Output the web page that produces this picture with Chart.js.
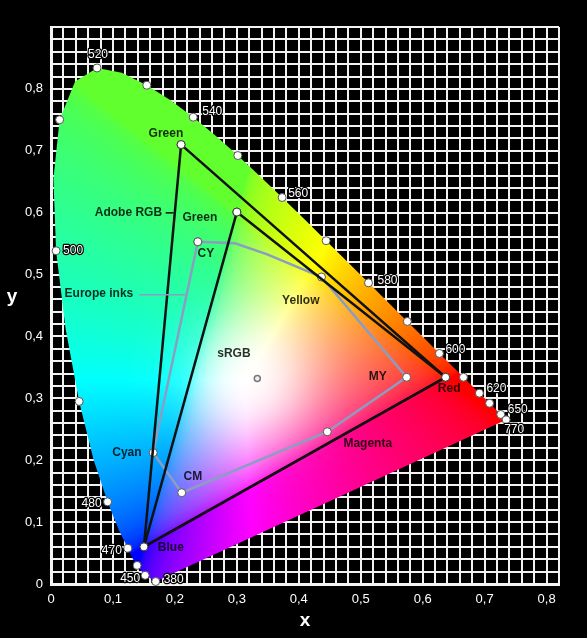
<!DOCTYPE html>
<html>
<head>
<meta charset="utf-8">
<script src="https://cdn.jsdelivr.net/npm/chart.js@4.4.1/dist/chart.umd.min.js"></script>
<style>
	html, body { margin: 0; background: #000; }
	canvas { display: block; }
</style>
</head>
<body>
<canvas id="chart" width="587" height="638"></canvas>
<script>
// Spectral locus (wavelength in nm, chromaticity x / y)
const locusNm = [380, 420, 430, 440, 450, 455, 460, 465, 470, 475,
	480, 485, 490, 495, 500, 505, 510, 515, 520, 525,
	530, 535, 540, 545, 550, 555, 560, 565, 570, 575,
	580, 585, 590, 595, 600, 605, 610, 615, 620, 625,
	630, 635, 640, 645, 650, 660, 680, 770];
const locusX = [0.169, 0.167, 0.164, 0.159, 0.152, 0.146, 0.139, 0.132, 0.1241, 0.1096,
	0.0913, 0.0687, 0.0454, 0.0235, 0.0082, 0.0039, 0.0139, 0.0389, 0.0743, 0.1142,
	0.1547, 0.1929, 0.2296, 0.2658, 0.3016, 0.3373, 0.3731, 0.4087, 0.4441, 0.4788,
	0.5125, 0.5448, 0.5752, 0.6029, 0.6270, 0.6482, 0.6658, 0.6801, 0.6915, 0.7006,
	0.7079, 0.7140, 0.7190, 0.7230, 0.7260, 0.7300, 0.7334, 0.7347];
const locusY = [0.004, 0.005, 0.007, 0.010, 0.014, 0.021, 0.030, 0.041, 0.0578, 0.0868,
	0.1327, 0.2007, 0.2950, 0.4127, 0.5384, 0.6548, 0.7502, 0.8120, 0.8338, 0.8262,
	0.8059, 0.7816, 0.7543, 0.7243, 0.6923, 0.6589, 0.6245, 0.5896, 0.5547, 0.5202,
	0.4866, 0.4544, 0.4242, 0.3965, 0.3725, 0.3514, 0.3340, 0.3197, 0.3083, 0.2993,
	0.2920, 0.2859, 0.2809, 0.2770, 0.2740, 0.2700, 0.2666, 0.2653];

// wavelengths that carry a dot on the locus
const markedNm = [380, 450, 460, 470, 480, 490, 500, 510, 520, 530, 540, 550,
	560, 570, 580, 590, 600, 610, 620, 630, 650, 770];

// colour spaces
const adobeX = [0.210, 0.637, 0.150, 0.210];
const adobeY = [0.710, 0.334, 0.060, 0.710];
const srgbX = [0.300, 0.637, 0.150, 0.300];
const srgbY = [0.601, 0.334, 0.060, 0.601];

// Europe inks gamut (marked = ink vertex)
const inksX = [0.237, 0.297, 0.348, 0.4366, 0.574, 0.446, 0.211, 0.165, 0.237];
const inksY = [0.553, 0.5506, 0.533, 0.496, 0.334, 0.246, 0.1475, 0.2123, 0.553];
const inksMarked = [1, 0, 0, 1, 1, 1, 1, 1, 1];

const whiteX = [0.333];
const whiteY = [0.332];

const FONT = "'Liberation Sans', Arial, Helvetica, sans-serif";

const pts = (xs, ys) => xs.map((v, i) => ({ x: v, y: ys[i] }));
const markedPts = markedNm.map(nm => {
	const i = locusNm.indexOf(nm);
	return { x: locusX[i], y: locusY[i] };
});

// wavelength labels: nm, dx, dy (pixel offset from dot)
const nmLabels = [
	[520, 1, -13], [540, 19, -5], [560, 16, -4], [580, 19, -2], [500, 17, 0],
	[480, -16, 2], [470, -16, 2], [450, -15, 3], [380, 18, -2],
	[600, 16, -4], [620, 17, -5], [650, 17, -5], [770, 8, 10],
];

// region labels placed in chart units
const regionLabels = [
	['Green', 0.1855, 0.7277], ['Adobe RGB', 0.125, 0.5997], ['Green', 0.2403, 0.5916],
	['CY', 0.250, 0.5332], ['Yellow', 0.4032, 0.457], ['Europe inks', 0.0774, 0.4695],
	['sRGB', 0.2952, 0.3728], ['MY', 0.5274, 0.3355], ['Red', 0.6427, 0.316],
	['Magenta', 0.5113, 0.2269], ['Cyan', 0.1226, 0.2128], ['CM', 0.229, 0.1739],
	['Blue', 0.1935, 0.0579],
];

function xyToRgb(x, y) {
	const X = x / y, Y = 1, Z = (1 - x - y) / y;
	let r = 3.2406 * X - 1.5372 * Y - 0.4986 * Z;
	let g = -0.9689 * X + 1.8758 * Y + 0.0415 * Z;
	let b = 0.0557 * X - 0.2040 * Y + 1.0570 * Z;
	r = Math.max(r, 0); g = Math.max(g, 0); b = Math.max(b, 0);
	const m = Math.max(r, g, b) || 1;
	const gam = c => {
		c = c / m;
		return c <= 0.0031308 ? 12.92 * c : 1.055 * Math.pow(c, 1 / 2.4) - 0.055;
	};
	let R = gam(r), G = gam(g), B = gam(b);
	// the original greens lean towards yellow
	const k = G * (1 - R) * (1 - B);
	R += (1 - R) * 0.38 * G * (1 - B);
	B += (1 - B) * 0.18 * k;
	// wider white patch round the white point
	const d2 = (x - 0.325) ** 2 + (y - 0.33) ** 2;
	const w = 0.85 * Math.exp(-d2 / (2 * 0.065 * 0.065));
	R += (1 - R) * w; G += (1 - G) * w; B += (1 - B) * w;
	return [R * 255, G * 255, B * 255];
}

let offscreen = null;
const horseshoe = {
	id: 'horseshoe',
	beforeDatasetsDraw(chart) {
		const { ctx, chartArea: a, scales: { x, y } } = chart;
		const w = Math.ceil(a.right - a.left), h = Math.ceil(a.bottom - a.top);
		if (!offscreen) {
			offscreen = document.createElement('canvas');
			offscreen.width = w; offscreen.height = h;
			const octx = offscreen.getContext('2d');
			const img = octx.createImageData(w, h);
			for (let j = 0; j < h; j++) {
				const cy = y.getValueForPixel(a.top + j + 0.5);
				for (let i = 0; i < w; i++) {
					const cx = x.getValueForPixel(a.left + i + 0.5);
					const k = (j * w + i) * 4;
					if (cy <= 0.001) continue;
					const c = xyToRgb(cx, cy);
					img.data[k] = c[0]; img.data[k + 1] = c[1]; img.data[k + 2] = c[2]; img.data[k + 3] = 255;
				}
			}
			octx.putImageData(img, 0, 0);
		}
		ctx.save();
		ctx.beginPath();
		locusX.forEach((v, i) => {
			const px = x.getPixelForValue(v), py = y.getPixelForValue(locusY[i]);
			if (i) ctx.lineTo(px, py); else ctx.moveTo(px, py);
		});
		ctx.closePath();
		ctx.clip();
		ctx.drawImage(offscreen, a.left, a.top);
		ctx.restore();
	}
};

const labels = {
	id: 'labels',
	afterDatasetsDraw(chart) {
		const { ctx, chartArea: a, scales: { x, y } } = chart;
		ctx.save();
		// leader lines
		ctx.lineWidth = 1.5;
		ctx.strokeStyle = '#111';
		ctx.beginPath();
		ctx.moveTo(x.getPixelForValue(0.185), y.getPixelForValue(0.5997));
		ctx.lineTo(x.getPixelForValue(0.198), y.getPixelForValue(0.5997));
		ctx.stroke();
		ctx.strokeStyle = '#8b9dc3';
		ctx.beginPath();
		ctx.moveTo(x.getPixelForValue(0.1424), y.getPixelForValue(0.4673));
		ctx.lineTo(x.getPixelForValue(0.2166), y.getPixelForValue(0.4673));
		ctx.stroke();

		ctx.textAlign = 'center';
		ctx.textBaseline = 'middle';
		ctx.font = 'bold 12px ' + FONT;
		ctx.fillStyle = 'rgba(0,0,0,0.82)';
		regionLabels.forEach(([t, vx, vy]) => {
			ctx.fillText(t, x.getPixelForValue(vx), y.getPixelForValue(vy));
		});

		// wavelength numbers: white with a thin black halo
		ctx.font = '12px ' + FONT;
		ctx.lineJoin = 'round';
		ctx.lineWidth = 2.5;
		ctx.strokeStyle = '#000';
		ctx.fillStyle = '#fff';
		nmLabels.forEach(([nm, dx, dy]) => {
			const i = locusNm.indexOf(nm);
			const px = x.getPixelForValue(locusX[i]) + dx, py = y.getPixelForValue(locusY[i]) + dy;
			ctx.strokeText(String(nm), px, py);
			ctx.fillText(String(nm), px, py);
		});

		// axis titles
		ctx.font = 'bold 19px ' + FONT;
		ctx.fillText('x', (a.left + a.right) / 2, a.bottom + 37);
		ctx.fillText('y', a.left - 39, (a.top + a.bottom) / 2 - 9);
		ctx.restore();
	}
};

const tickLabel = v => {
	const k = Math.round(v * 100);
	if (k % 10 !== 0 || k > 80) return '';
	return k === 0 ? '0' : '0,' + (k / 10);
};

const axis = (max, fit) => ({
	type: 'linear',
	min: 0,
	max: max,
	afterFit: fit,
	grid: { color: '#f2f2f2', lineWidth: 2, drawTicks: false },
	border: { color: '#f4f4f4', width: 3 },
	ticks: {
		stepSize: 0.02,
		autoSkip: false,
		maxRotation: 0,
		padding: 8,
		color: '#fff',
		font: { family: FONT, size: 13 },
		callback: tickLabel,
	},
});

const vertexStyle = {
	pointRadius: 4,
	pointBackgroundColor: '#fff',
	pointBorderColor: '#333',
	pointBorderWidth: 1,
};

new Chart(document.getElementById('chart'), {
	type: 'scatter',
	data: {
		datasets: [
			{
				label: 'Spectral locus',
				data: markedPts,
				pointRadius: 4,
				pointBackgroundColor: '#fff',
				pointBorderColor: '#555',
				pointBorderWidth: 1,
				clip: false,
			},
			{
				label: 'White point',
				data: pts(whiteX, whiteY),
				pointRadius: 3,
				pointBackgroundColor: '#eee',
				pointBorderColor: '#777',
				pointBorderWidth: 1.5,
			},
			{
				label: 'Adobe RGB',
				data: pts(adobeX, adobeY),
				showLine: true,
				borderColor: '#111',
				borderWidth: 2.5,
				...vertexStyle,
			},
			{
				label: 'sRGB',
				data: pts(srgbX, srgbY),
				showLine: true,
				borderColor: '#111',
				borderWidth: 2.5,
				...vertexStyle,
			},
			{
				label: 'Europe inks',
				data: pts(inksX, inksY),
				showLine: true,
				borderColor: '#8b9dc3',
				borderWidth: 2.5,
				...vertexStyle,
				pointBorderColor: '#555',
				pointRadius: inksMarked.map(m => m ? 4 : 0),
			},
		]
	},
	options: {
		responsive: false,
		animation: false,
		events: [],
		layout: { padding: { top: 27, right: 28, left: 0, bottom: 0 } },
		plugins: { legend: { display: false }, tooltip: { enabled: false } },
		scales: {
			x: axis(0.82, s => { s.height = 54; }),
			y: axis(0.9, s => { s.width = 51; }),
		}
	},
	plugins: [horseshoe, labels]
});
</script>
</body>
</html>
